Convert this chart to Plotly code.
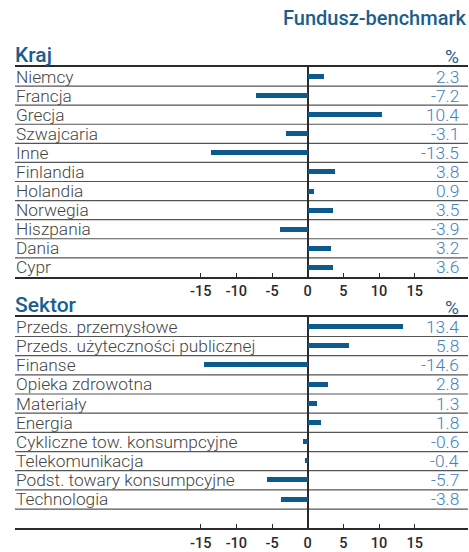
import plotly.graph_objects as go

W, H = 469, 552

kraj_labels = ["Niemcy", "Francja", "Grecja", "Szwajcaria", "Inne", "Finlandia",
               "Holandia", "Norwegia", "Hiszpania", "Dania", "Cypr"]
kraj_values = [2.3, -7.2, 10.4, -3.1, -13.5, 3.8, 0.9, 3.5, -3.9, 3.2, 3.6]

sektor_labels = ["Przeds. przemysłowe", "Przeds. użyteczności publicznej", "Finanse",
                 "Opieka zdrowotna", "Materiały", "Energia",
                 "Cykliczne tow. konsumpcyjne", "Telekomunikacja",
                 "Podst. towary konsumpcyjne", "Technologia"]
sektor_values = [13.4, 5.8, -14.6, 2.8, 1.3, 1.8, -0.6, -0.4, -5.7, -3.8]

tick_vals = [-15, -10, -5, 0, 5, 10, 15]
tick_text = ["-15", "-10", "-5", "0", "5", "10", "15"]

BAR = "#0d5a8f"
VAL = "#3f80bf"
HEAD = "#1b5e8e"
TXT = "#444444"
DARK = "#2a2a2a"
GRID = "#555555"

FONT = "Roboto"

def py(p):
    return (H - p) / H

def px(p):
    return p / W

x_left, x_right = 15, 468
zero_px = 307.7
unit = 7.13
xr = [(x_left - zero_px) / unit, (x_right - zero_px) / unit]

fig = go.Figure()

fig.add_trace(go.Bar(x=kraj_values, y=kraj_labels, orientation="h", width=0.26,
                     marker=dict(color=BAR, line=dict(width=0)),
                     xaxis="x", yaxis="y", hoverinfo="skip"))
fig.add_trace(go.Bar(x=sektor_values, y=sektor_labels, orientation="h", width=0.26,
                     marker=dict(color=BAR, line=dict(width=0)),
                     xaxis="x2", yaxis="y2", hoverinfo="skip"))

xcommon = dict(range=xr, tickvals=tick_vals, ticktext=tick_text,
               showgrid=False, zeroline=True, zerolinecolor=DARK, zerolinewidth=2,
               showline=True, linecolor=DARK, linewidth=2, mirror=True,
               ticks="inside", ticklen=4, tickcolor=DARK, tickwidth=1,
               tickfont=dict(family=FONT, size=14.5, color=DARK, weight=500),
               fixedrange=True)

fig.update_layout(
    width=W, height=H,
    margin=dict(l=0, r=0, t=0, b=0),
    paper_bgcolor="white", plot_bgcolor="white",
    showlegend=False, bargap=0,
    xaxis=dict(domain=[px(x_left), px(x_right)], anchor="y", **xcommon),
    yaxis=dict(domain=[py(281), py(68)], type="category", categoryarray=kraj_labels,
               range=[len(kraj_labels) - 0.5, -0.5], showticklabels=False,
               showgrid=False, zeroline=False, showline=False, anchor="x"),
    xaxis2=dict(domain=[px(x_left), px(x_right)], anchor="y2", **xcommon),
    yaxis2=dict(domain=[py(536), py(322)], type="category", categoryarray=sektor_labels,
                range=[len(sektor_labels) + 0.5, -0.5], showticklabels=False,
                showgrid=False, zeroline=False, showline=False, anchor="x2"),
)

shapes = []
annotations = []

def panel(labels, values, xa, ya, nlines):
    for i in range(nlines):
        shapes.append(dict(type="line", xref=xa + " domain", yref=ya,
                           x0=0, x1=1, y0=i + 0.5, y1=i + 0.5,
                           line=dict(color=GRID, width=1.2), layer="below"))
    for lab, v in zip(labels, values):
        annotations.append(dict(text=lab, xref="paper", yref=ya, x=px(14), y=lab,
                                xanchor="left", yanchor="middle", showarrow=False,
                                yshift=0,
                                font=dict(family=FONT, size=17.3, color=TXT, weight=300)))
        annotations.append(dict(text=f"{v:.1f}", xref="paper", yref=ya, x=px(461), y=lab,
                                xanchor="right", yanchor="middle", showarrow=False,
                                font=dict(family=FONT, size=17.3, color=VAL, weight=300)))

panel(kraj_labels, kraj_values, "x", "y", len(kraj_labels) - 1)
panel(sektor_labels, sektor_values, "x2", "y2", len(sektor_labels))

heads = [("Fundusz-benchmark", px(469), py(18), "right", 20),
         ("Kraj", px(13), py(56), "left", 21),
         ("Sektor", px(13), py(309), "left", 21)]
for t, x, y, anc, sz in heads:
    annotations.append(dict(text=t, xref="paper", yref="paper", x=x, y=y,
                            xanchor=anc, yanchor="middle", showarrow=False,
                            font=dict(family=FONT, size=sz, color=HEAD, weight=500)))
for y in (57, 312):
    annotations.append(dict(text="%", xref="paper", yref="paper", x=px(461), y=py(y),
                            xanchor="right", yanchor="middle", showarrow=False,
                            font=dict(family=FONT, size=19, color=HEAD, weight=400)))

fig.update_layout(shapes=shapes, annotations=annotations)

fig.write_html("out.html", config={"displayModeBar": False},
               post_script="document.body.style.margin='0';document.body.style.overflow='hidden';")
